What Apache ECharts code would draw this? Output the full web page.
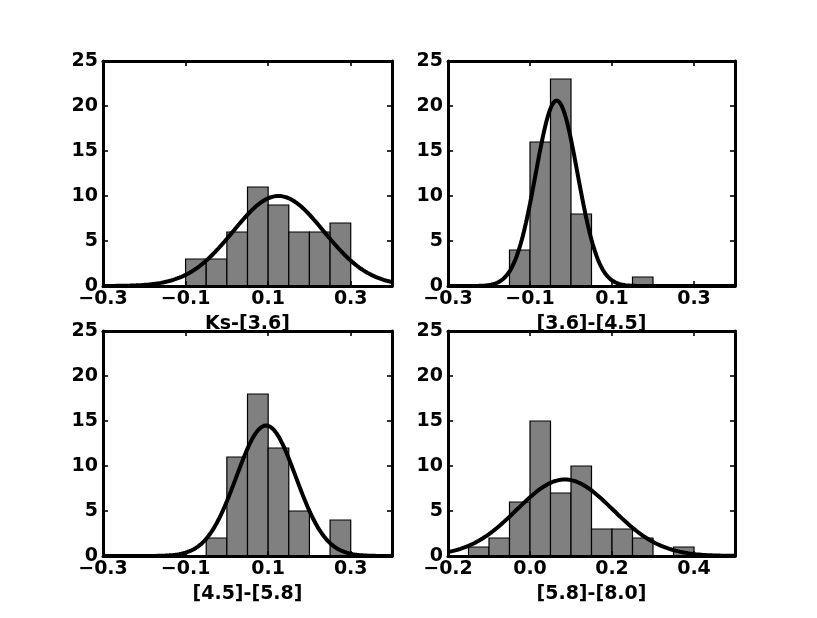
<!DOCTYPE html>
<html>
<head>
<meta charset="utf-8">
<script src="https://cdn.jsdelivr.net/npm/echarts@6/dist/echarts.min.js"></script>
<style>html,body{margin:0;padding:0;background:#fff;}#c{width:817px;height:618px;}</style>
</head>
<body>
<div id="c"></div>
<script>
// ---- data ----
const axisNames = ['Ks-[3.6]', '[3.6]-[4.5]', '[4.5]-[5.8]', '[5.8]-[8.0]'];
// histogram bins: [start, end, count]
const bins1 = [[-0.10,-0.05,3],[-0.05,0.00,3],[0.00,0.05,6],[0.05,0.10,11],[0.10,0.15,9],[0.15,0.20,6],[0.20,0.25,6],[0.25,0.30,7]];
const bins2 = [[-0.15,-0.10,4],[-0.10,-0.05,16],[-0.05,0.00,23],[0.00,0.05,8],[0.15,0.20,1]];
const bins3 = [[-0.05,0.00,2],[0.00,0.05,11],[0.05,0.10,18],[0.10,0.15,12],[0.15,0.20,5],[0.25,0.30,4]];
const bins4 = [[-0.15,-0.10,1],[-0.10,-0.05,2],[-0.05,0.00,6],[0.00,0.05,15],[0.05,0.10,7],[0.10,0.15,10],[0.15,0.20,3],[0.20,0.25,3],[0.25,0.30,2],[0.35,0.40,1]];
// fitted gaussian: [mean, sigma, peak]
const fit1 = [0.125, 0.11, 10.0];
const fit2 = [-0.035, 0.051, 20.6];
const fit3 = [0.095, 0.072, 14.5];
const fit4 = [0.085, 0.117, 8.5];
// x ranges and tick labels
const xRange1 = [-0.3, 0.4], xRange2 = [-0.3, 0.4], xRange3 = [-0.3, 0.4], xRange4 = [-0.2, 0.5];
const xTicks1 = [-0.3, -0.1, 0.1, 0.3];
const xTicks2 = [-0.3, -0.1, 0.1, 0.3];
const xTicks3 = [-0.3, -0.1, 0.1, 0.3];
const xTicks4 = [-0.2, 0.0, 0.2, 0.4];
const yTicks = [0, 5, 10, 15, 20, 25];

const panels = [
  {bins: bins1, fit: fit1, range: xRange1, ticks: xTicks1, name: axisNames[0]},
  {bins: bins2, fit: fit2, range: xRange2, ticks: xTicks2, name: axisNames[1]},
  {bins: bins3, fit: fit3, range: xRange3, ticks: xTicks3, name: axisNames[2]},
  {bins: bins4, fit: fit4, range: xRange4, ticks: xTicks4, name: axisNames[3]}
];
const gridPos = [
  {left: 103, top: 61, width: 289, height: 225},
  {left: 448, top: 61, width: 287, height: 225},
  {left: 103, top: 331, width: 289, height: 225},
  {left: 448, top: 331, width: 287, height: 225}
];

const FONT = 'DejaVu Sans';
const lbl = {color: '#000', fontFamily: FONT, fontWeight: 'bold', fontSize: 19};
const fmtX = v => (v < 0 ? '\u2212' : '') + Math.abs(v).toFixed(1);
const lineSt = {color: '#000', width: 3};
const tickSt = {color: '#000', width: 1.6};

const grid = [], xAxis = [], yAxis = [], series = [];
panels.forEach((p, i) => {
  grid.push(Object.assign({show: false}, gridPos[i]));
  // bottom x axis
  xAxis.push({
    type: 'value', gridIndex: i, position: 'bottom', min: p.range[0], max: p.range[1], z: 10,
    name: p.name, nameLocation: 'middle', nameGap: 29, nameTextStyle: lbl,
    axisLine: {show: true, onZero: false, lineStyle: lineSt},
    axisTick: {show: true, inside: true, length: 5, lineStyle: tickSt, customValues: p.ticks},
    axisLabel: Object.assign({show: true, margin: 4, formatter: fmtX, customValues: p.ticks}, lbl),
    splitLine: {show: false}
  });
  // top x axis (ticks only)
  xAxis.push({
    type: 'value', gridIndex: i, position: 'top', min: p.range[0], max: p.range[1], z: 10,
    axisLine: {show: true, onZero: false, lineStyle: lineSt},
    axisTick: {show: true, inside: true, length: 5, lineStyle: tickSt, customValues: p.ticks},
    axisLabel: {show: false}, splitLine: {show: false}
  });
  yAxis.push({
    type: 'value', gridIndex: i, position: 'left', min: 0, max: 25, interval: 5, z: 10,
    axisLine: {show: true, onZero: false, lineStyle: lineSt},
    axisTick: {show: true, inside: true, length: 5, lineStyle: tickSt},
    axisLabel: Object.assign({show: true, margin: 5, customValues: yTicks}, lbl),
    splitLine: {show: false}
  });
  yAxis.push({
    type: 'value', gridIndex: i, position: 'right', min: 0, max: 25, interval: 5, z: 10,
    axisLine: {show: true, onZero: false, lineStyle: lineSt},
    axisTick: {show: true, inside: true, length: 5, lineStyle: tickSt},
    axisLabel: {show: false}, splitLine: {show: false}
  });
  series.push({
    type: 'custom', xAxisIndex: 2 * i, yAxisIndex: 2 * i, data: p.bins,
    encode: {x: [0, 1], y: 2}, z: 2,
    renderItem: function (params, api) {
      const a = api.coord([api.value(0), api.value(2)]);
      const b = api.coord([api.value(1), 0]);
      return {type: 'rect', shape: {x: a[0], y: a[1], width: b[0] - a[0], height: b[1] - a[1]},
        style: {fill: '#808080', stroke: '#000', lineWidth: 1.2}};
    }
  });
  const [mu, sg, pk] = p.fit;
  const curve = [];
  const n = 280;
  for (let k = 0; k <= n; k++) {
    const x = p.range[0] + (p.range[1] - p.range[0]) * k / n;
    curve.push([x, pk * Math.exp(-((x - mu) * (x - mu)) / (2 * sg * sg))]);
  }
  series.push({
    type: 'line', xAxisIndex: 2 * i, yAxisIndex: 2 * i, data: curve, showSymbol: false,
    symbol: 'none', smooth: false, clip: true, z: 3, silent: true,
    lineStyle: {color: '#000', width: 4}
  });
});

const chart = echarts.init(document.getElementById('c'), null, {renderer: 'canvas'});
chart.setOption({backgroundColor: '#fff', animation: false, grid, xAxis, yAxis, series});
</script>
</body>
</html>
